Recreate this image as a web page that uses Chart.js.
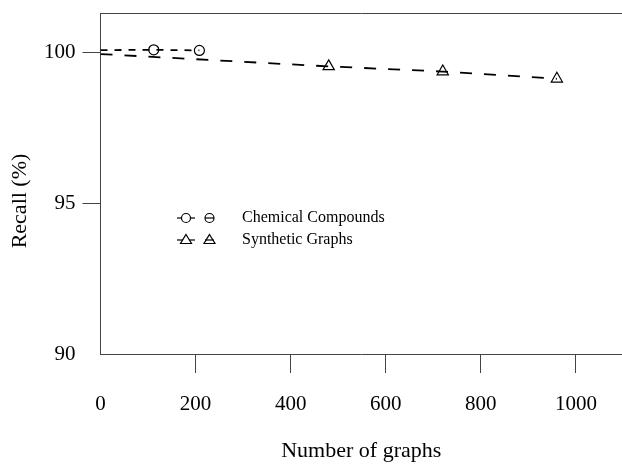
<!DOCTYPE html>
<html>
<head>
<meta charset="utf-8">
<title>Recall vs number of graphs</title>
<script src="https://cdn.jsdelivr.net/npm/chart.js@4"></script>
<style>
  html, body { margin: 0; padding: 0; background: #fff; }
</style>
</head>
<body>
<canvas id="chart" width="622" height="464"></canvas>
<script>
// values
const compoundSizes = [0, 112, 208];
const compoundRecall = [100.07, 100.08, 100.06];
const syntheticSizes = [0, 480, 720, 960];
const syntheticRecall = [99.94, 99.53, 99.36, 99.12];
const xTicks = [0, 200, 400, 600, 800, 1000];
const yTicks = [90, 95, 100];
const seriesNames = ['Chemical Compounds', 'Synthetic Graphs'];
const xTitle = 'Number of graphs';
const yTitle = 'Recall (%)';

const serif = '"Liberation Serif", "Times New Roman", serif';
const frameColor = '#444';

const toPoints = (xs, ys) => xs.map((x, i) => ({ x: x, y: ys[i] }));

// no extra label padding, so the plot box keeps R's margins
const noPadding = s => {
  s.paddingLeft = 0;
  s.paddingRight = 0;
  s.paddingTop = 0;
  s.paddingBottom = 0;
};

// R-style legend and y title, drawn on top
const extras = {
  id: 'extras',
  afterDraw(chart) {
    const ctx = chart.ctx;
    ctx.save();
    ctx.fillStyle = '#000';
    ctx.font = '22px ' + serif;
    ctx.textAlign = 'center';
    ctx.textBaseline = 'middle';
    ctx.translate(20, 201);
    ctx.rotate(-Math.PI / 2);
    ctx.fillText(yTitle, 0, 0);
    ctx.restore();

    ctx.save();
    ctx.strokeStyle = '#000';
    ctx.lineWidth = 1.2;
    const rows = [218, 240];
    seriesNames.forEach((name, i) => {
      const y = rows[i];
      ctx.beginPath();
      ctx.moveTo(177, y);
      ctx.lineTo(195, y);
      ctx.stroke();
      ctx.beginPath();
      ctx.moveTo(205, y);
      ctx.lineTo(214, y);
      ctx.stroke();
      if (i === 0) {
        ctx.fillStyle = '#fff';
        ctx.beginPath();
        ctx.arc(186, y, 4.5, 0, Math.PI * 2);
        ctx.fill();
        ctx.stroke();
        ctx.beginPath();
        ctx.arc(209.5, y, 4.5, 0, Math.PI * 2);
        ctx.stroke();
      } else {
        [186, 209.5].forEach((cx, k) => {
          ctx.fillStyle = '#fff';
          ctx.beginPath();
          ctx.moveTo(cx, y - 5.5);
          ctx.lineTo(cx + 5.5, y + 3.5);
          ctx.lineTo(cx - 5.5, y + 3.5);
          ctx.closePath();
          if (k === 0) ctx.fill();
          ctx.stroke();
        });
      }
      ctx.fillStyle = '#000';
      ctx.font = '16px ' + serif;
      ctx.textAlign = 'left';
      ctx.textBaseline = 'middle';
      ctx.fillText(name, 242, y);
    });
    ctx.restore();
  }
};

new Chart(document.getElementById('chart'), {
  type: 'line',
  data: {
    datasets: [
      {
        label: seriesNames[0],
        data: toPoints(compoundSizes, compoundRecall),
        borderColor: '#000',
        borderWidth: 1.8,
        borderDash: [7, 7],
        pointStyle: 'circle',
        pointRadius: compoundSizes.map(x => (x === 0 ? 0 : 5)),
        pointBorderWidth: 1.2,
        pointBorderColor: '#000',
        pointBackgroundColor: 'rgba(0,0,0,0)',
        tension: 0
      },
      {
        label: seriesNames[1],
        data: toPoints(syntheticSizes, syntheticRecall),
        borderColor: '#000',
        borderWidth: 1.8,
        borderDash: [12, 12],
        pointStyle: 'triangle',
        pointRadius: syntheticSizes.map(x => (x === 0 ? 0 : 6.5)),
        pointBorderWidth: 1.2,
        pointBorderColor: '#000',
        pointBackgroundColor: 'rgba(0,0,0,0)',
        tension: 0
      }
    ]
  },
  options: {
    responsive: false,
    animation: false,
    devicePixelRatio: 1,
    layout: { padding: 0, autoPadding: false },
    plugins: {
      legend: { display: false },
      tooltip: { enabled: false }
    },
    scales: {
      x: {
        type: 'linear',
        position: 'bottom',
        min: 0,
        max: 1097,
        afterBuildTicks: s => { s.ticks = xTicks.map(v => ({ value: v })); },
        afterFit: s => { s.height = 110; noPadding(s); },
        grid: {
          drawOnChartArea: false,
          tickLength: 19,
          tickWidth: 1,
          tickColor: c => (c.tick && c.tick.value === 0 ? 'rgba(0,0,0,0)' : frameColor)
        },
        border: { display: true, color: frameColor, width: 1 },
        ticks: {
          padding: 19,
          color: '#000',
          font: { family: serif, size: 21 },
          maxRotation: 0,
          callback: v => String(v)
        },
        title: {
          display: true,
          text: xTitle,
          color: '#000',
          font: { family: serif, size: 22 },
          padding: 0
        }
      },
      top: {
        type: 'linear',
        position: 'top',
        afterFit: s => { s.height = 13; noPadding(s); },
        grid: { drawOnChartArea: false, drawTicks: false },
        border: { display: true, color: frameColor, width: 1 },
        ticks: { display: false }
      },
      y: {
        type: 'linear',
        position: 'left',
        min: 90,
        max: 101.3,
        afterBuildTicks: s => { s.ticks = yTicks.map(v => ({ value: v })); },
        afterFit: s => { s.width = 100.5; noPadding(s); },
        grid: {
          drawOnChartArea: false,
          tickLength: 18,
          tickWidth: 1,
          tickColor: c => (c.tick && c.tick.value === 90 ? 'rgba(0,0,0,0)' : frameColor)
        },
        border: { display: true, color: frameColor, width: 1 },
        ticks: {
          padding: 7,
          color: '#000',
          font: { family: serif, size: 21 },
          callback: v => String(v)
        }
      }
    }
  },
  plugins: [extras]
});
</script>
</body>
</html>
